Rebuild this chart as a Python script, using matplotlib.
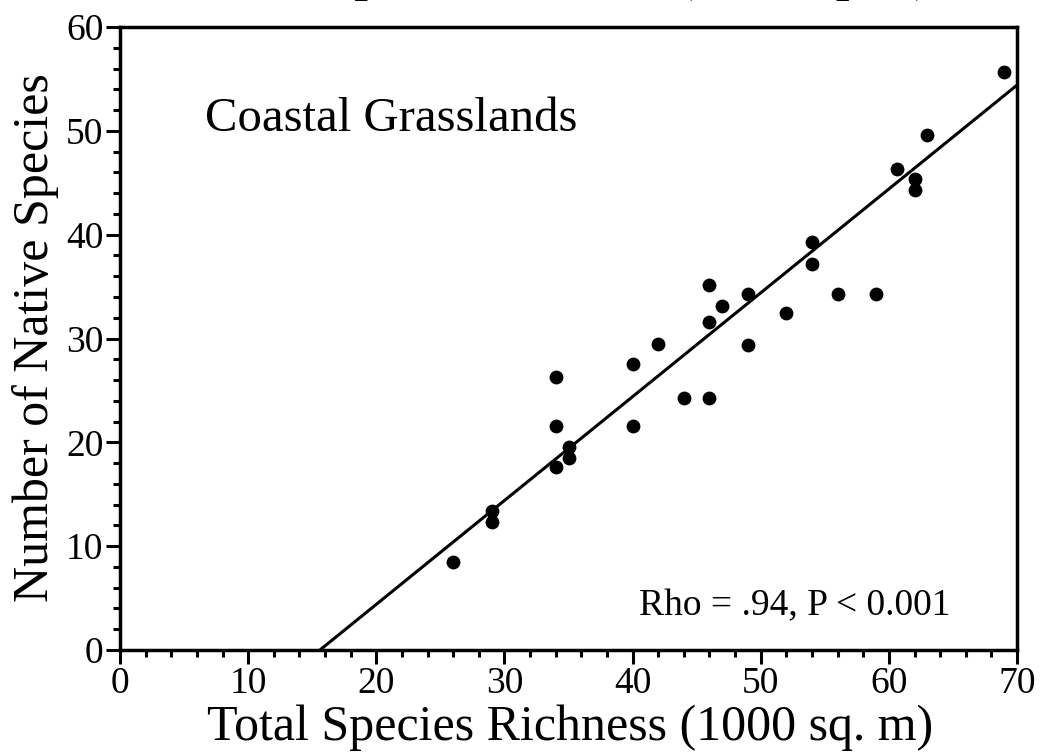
import numpy as np
import matplotlib
matplotlib.use("Agg")
import matplotlib.pyplot as plt
from matplotlib.ticker import MultipleLocator

# données
total_richness = [26, 29, 29, 34, 34, 34, 35, 35, 40, 40, 42, 44, 46, 46,
                  46, 47, 49, 49, 52, 54, 54, 56, 59, 60.6, 62, 62, 63, 69]
native_species = [8.5, 13.4, 12.3, 17.6, 21.6, 26.3, 19.6, 18.5, 21.6, 27.5,
                  29.5, 24.3, 24.3, 31.6, 35.2, 33.1, 34.3, 29.4, 32.5, 39.3,
                  37.2, 34.3, 34.3, 46.3, 45.4, 44.3, 49.6, 55.7]
pente = 1.0
ordonnee = -15.6

plt.rcParams['font.family'] = ['Liberation Serif', 'DejaVu Serif']

fig = plt.figure(figsize=(10.4, 7.54), dpi=100)
ax = fig.add_axes([0.1154, 0.1379, 0.8625, 0.8263])

ax.scatter(total_richness, native_species, s=80, color='black', zorder=3)
xl = np.array([0, 70])
ax.plot(xl, pente*xl + ordonnee, color='black', lw=2.2, zorder=2)

ax.set_xlim(0, 70)
ax.set_ylim(0, 60)
ax.xaxis.set_major_locator(MultipleLocator(10))
ax.xaxis.set_minor_locator(MultipleLocator(2))
ax.yaxis.set_major_locator(MultipleLocator(10))
ax.yaxis.set_minor_locator(MultipleLocator(2))
ax.tick_params(which='major', direction='out', length=10, width=2.2, labelsize=27, pad=2)
ax.tick_params(which='minor', direction='out', length=5, width=2.2)
for s in ax.spines.values():
    s.set_linewidth(2.5)

ax.text(6.6, 50, "Coastal Grasslands", fontsize=35, ha='left', va='baseline')
ax.text(40.5, 3.4, "Rho = .94, P < 0.001", fontsize=27, ha='left', va='baseline')

fig.text(0.548, 0.0186, "Total Species Richness (1000 sq. m)", fontsize=36,
         ha='center', va='baseline')
fig.text(0.034, 0.552, "Number of Native Species", fontsize=36, rotation=90,
         ha='center', va='center')
# titre coupé en haut de l'image
fig.text(0.536, 1.012, "Native Species Richness (all samples)", fontsize=34,
         fontweight='bold', ha='center', va='baseline')

fig.savefig("out.png", dpi=100)
